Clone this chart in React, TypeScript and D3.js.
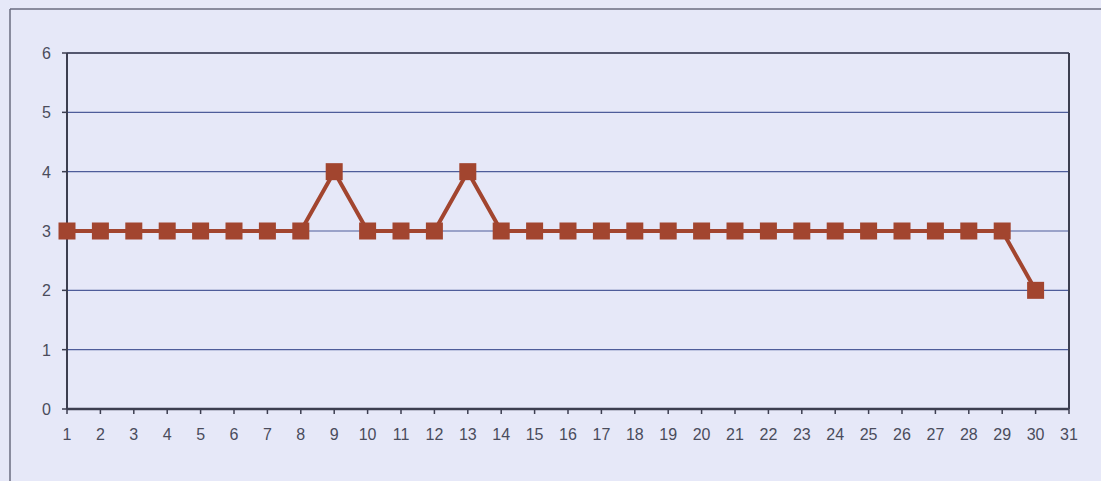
import React from "react";
import * as d3 from "d3";

const categories: number[] = d3.range(1, 32);
const seriesX: number[] = [1,2,3,4,5,6,7,8,9,10,11,12,13,14,15,16,17,18,19,20,21,22,23,24,25,26,27,28,29,30];
const seriesValues: number[] = [3,3,3,3,3,3,3,3,4,3,3,3,4,3,3,3,3,3,3,3,3,3,3,3,3,3,3,3,3,2];
const yTicks: number[] = [0, 1, 2, 3, 4, 5, 6];

export default function App() {
  const W = 1101, H = 481;
  const left = 67, right = 1069, top = 53, bottom = 409;
  const x = d3.scaleLinear().domain([1, 31]).range([left, right]);
  const y = d3.scaleLinear().domain([0, 6]).range([bottom, top]);
  const line = d3.line<number>().x((_, i) => x(seriesX[i])).y((d) => y(d));
  const data = seriesValues;
  const lineColor = "#A2452F";
  const axisColor = "#3C3E50";
  const gridColor = "#4E5C9A";
  const textColor = "#4A4C5C";
  const ms = 17;
  const font = "Liberation Sans, Arial, sans-serif";
  return (
    <svg width={W} height={H} style={{ position: "absolute", left: 0, top: 0, display: "block" }}>
      <rect x={0} y={0} width={W} height={H} fill="#E6E8F8" />
      <line x1={10} y1={9} x2={W} y2={9} stroke="#6A6C80" strokeWidth={1.5} />
      <line x1={10} y1={9} x2={10} y2={H} stroke="#6A6C80" strokeWidth={1.5} />
      {yTicks.filter((t) => t > 0).map((t) => (
        <line key={"g" + t} x1={left} x2={right} y1={y(t)} y2={y(t)} stroke={gridColor} strokeWidth={1.2} />
      ))}
      <line x1={right} x2={right} y1={top} y2={bottom} stroke={axisColor} strokeWidth={2} />
      <line x1={left} x2={left} y1={top} y2={bottom} stroke={axisColor} strokeWidth={2} />
      <line x1={left} x2={right} y1={bottom} y2={bottom} stroke={axisColor} strokeWidth={2.5} />
      <line x1={left} x2={right} y1={top} y2={top} stroke={axisColor} strokeWidth={1.5} />
      {yTicks.map((t) => (
        <g key={"y" + t}>
          <line x1={left - 5} x2={left} y1={y(t)} y2={y(t)} stroke={axisColor} strokeWidth={1.5} />
          <text x={51} y={y(t) + 6} textAnchor="end" fontFamily={font} fontSize={16} fill={textColor}>{t}</text>
        </g>
      ))}
      {categories.map((c) => (
        <g key={"x" + c}>
          <line x1={x(c)} x2={x(c)} y1={bottom} y2={bottom + 5} stroke={axisColor} strokeWidth={1.5} />
          <text x={x(c)} y={440} textAnchor="middle" fontFamily={font} fontSize={16} fill={textColor}>{c}</text>
        </g>
      ))}
      <path d={line(data) || ""} fill="none" stroke={lineColor} strokeWidth={4} strokeLinejoin="round" />
      {data.map((v, i) => (
        <rect key={"m" + i} x={x(seriesX[i]) - ms / 2} y={y(v) - ms / 2} width={ms} height={ms} fill={lineColor} />
      ))}
    </svg>
  );
}
